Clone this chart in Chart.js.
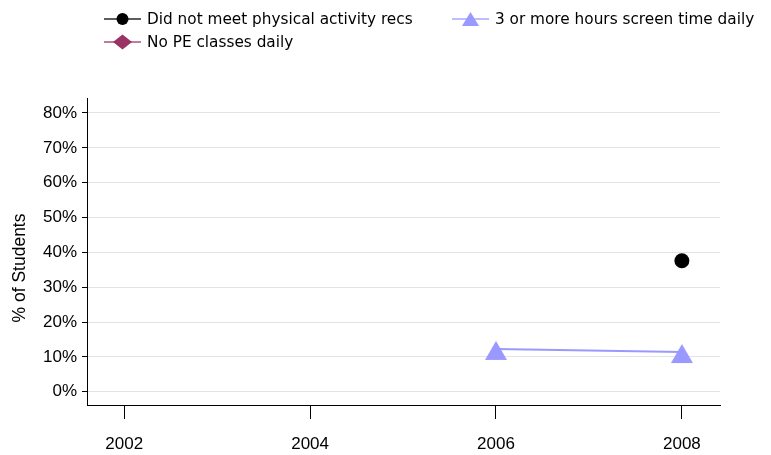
<!DOCTYPE html>
<html>
<head>
<meta charset="utf-8">
<script src="https://cdn.jsdelivr.net/npm/chart.js@4"></script>
<style>
  html, body { margin: 0; padding: 0; background: #fff; }
  #wrap { position: relative; width: 771px; height: 455px; }
  #legend { position: absolute; left: 0; top: 0; font: 15.3px "DejaVu Sans", Verdana, sans-serif; color: #000; }
  .item { position: absolute; height: 20px; display: flex; align-items: center; white-space: nowrap; }
  .item svg { margin-right: 6px; flex: none; }
</style>
</head>
<body>
<div id="wrap">
  <canvas id="chart" width="771" height="455"></canvas>
  <div id="legend"></div>
</div>
<script>
// ---------- data ----------
const years = [2002, 2004, 2006, 2008];
const yTicks = [0, 10, 20, 30, 40, 50, 60, 70, 80];
const seriesNames = ['Did not meet physical activity recs', 'No PE classes daily', '3 or more hours screen time daily'];
const seriesColors = ['#000000', '#993366', '#9999ff'];
const notMeetingRecs = [null, null, null, 37.6];
const noDailyPE = [null, null, null, null];
const screenTime3h = [null, null, 12.3, 11.4];

const tickFont = { family: '"Liberation Sans", Arial, sans-serif', size: 17 };

function toPoints(values) {
    return years.map((yr, i) => ({ x: yr, y: values[i] }));
}

// triangle marker drawn a bit low, like the original
function triangleImage(color) {
    const c = document.createElement('canvas');
    c.width = 24; c.height = 24;
    const g = c.getContext('2d');
    g.fillStyle = color;
    g.beginPath();
    g.moveTo(12, 4.1);
    g.lineTo(23, 23.1);
    g.lineTo(1, 23.1);
    g.closePath();
    g.fill();
    return c;
}

// ---------- legend (html) ----------
const legendSlots = [
    { left: 104, top: 9, marker: 'circle' },
    { left: 104, top: 32, marker: 'diamond' },
    { left: 452, top: 9, marker: 'triangle' }
];
const legendEl = document.getElementById('legend');
seriesNames.forEach((name, i) => {
    const slot = legendSlots[i];
    const col = seriesColors[i];
    let mark = '';
    if (slot.marker === 'circle') mark = `<circle cx="18.5" cy="10" r="6" fill="${col}"/>`;
    if (slot.marker === 'diamond') mark = `<polygon points="9,10 18.5,2.5 28,10 18.5,17.5" fill="${col}"/>`;
    if (slot.marker === 'triangle') mark = `<polygon points="18.5,3 27,17 10,17" fill="${col}"/>`;
    const div = document.createElement('div');
    div.className = 'item';
    div.style.left = slot.left + 'px';
    div.style.top = slot.top + 'px';
    div.innerHTML = `<svg width="37" height="20"><line x1="0" y1="10" x2="37" y2="10" stroke="${col}" stroke-width="1.3" stroke-opacity="0.85"/>${mark}</svg><span>${name}</span>`;
    legendEl.appendChild(div);
});

// y axis title, sits a little below the middle in the original
const yTitlePlugin = {
    id: 'yTitle',
    afterDraw(chart) {
        const ctx = chart.ctx;
        ctx.save();
        ctx.translate(20.5, 268);
        ctx.rotate(-Math.PI / 2);
        ctx.font = '17.5px "Liberation Sans", Arial, sans-serif';
        ctx.fillStyle = '#000';
        ctx.textAlign = 'center';
        ctx.textBaseline = 'middle';
        ctx.fillText('% of Students', 0, 0);
        ctx.restore();
    }
};

new Chart(document.getElementById('chart'), {
    type: 'line',
    data: {
        datasets: [
            {
                label: seriesNames[0],
                data: toPoints(notMeetingRecs),
                borderColor: seriesColors[0],
                backgroundColor: seriesColors[0],
                pointStyle: 'circle',
                pointRadius: 7.5,
                pointBorderWidth: 0,
                borderWidth: 2
            },
            {
                label: seriesNames[1],
                data: toPoints(noDailyPE),
                borderColor: seriesColors[1],
                backgroundColor: seriesColors[1],
                pointStyle: 'rectRot',
                pointRadius: 9,
                borderWidth: 2
            },
            {
                label: seriesNames[2],
                data: toPoints(screenTime3h),
                borderColor: seriesColors[2],
                backgroundColor: seriesColors[2],
                pointStyle: triangleImage(seriesColors[2]),
                pointRadius: 11,
                borderWidth: 2
            }
        ]
    },
    options: {
        responsive: false,
        animation: false,
        devicePixelRatio: 1,
        layout: { padding: { top: 98, right: 51, bottom: 0, left: 0 } },
        plugins: {
            legend: { display: false },
            tooltip: { enabled: false }
        },
        scales: {
            x: {
                type: 'linear',
                min: 2001.6,
                max: 2008.41,
                afterBuildTicks: s => { s.ticks = years.map(v => ({ value: v })); },
                afterFit: s => { s.height = 50; },
                ticks: { callback: v => String(v), font: tickFont, color: '#000', padding: 15.5, maxRotation: 0, autoSkip: false },
                grid: { drawOnChartArea: false, tickLength: 14, tickColor: '#000' },
                border: { color: '#000', width: 1 }
            },
            y: {
                min: -3.8,
                max: 84.3,
                afterBuildTicks: s => { s.ticks = yTicks.map(v => ({ value: v })); },
                afterFit: s => { s.width = 87; },
                ticks: { callback: v => v + '%', font: tickFont, color: '#000', padding: 5 },
                grid: { color: '#e3e3e3', tickLength: 5, tickColor: '#000' },
                border: { color: '#000', width: 1 }
            }
        }
    },
    plugins: [yTitlePlugin]
});
</script>
</body>
</html>
